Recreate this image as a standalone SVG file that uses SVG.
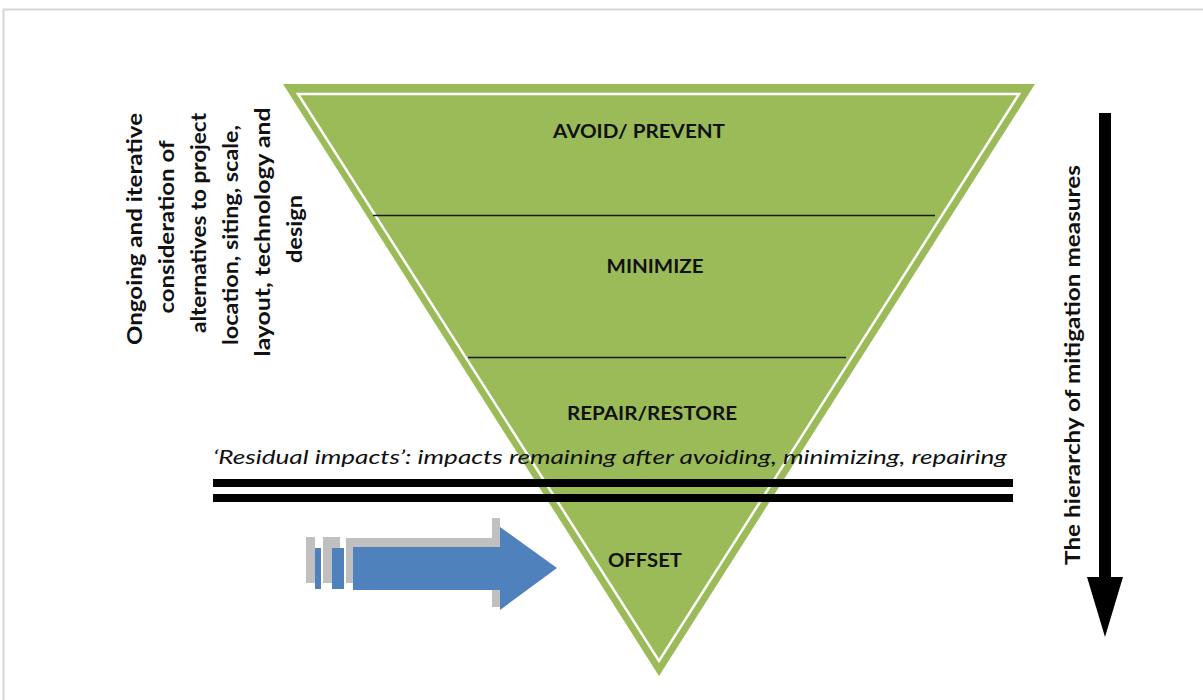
<svg xmlns="http://www.w3.org/2000/svg" width="1203" height="700" viewBox="0 0 1203 700">
<style>
.lbl{font-family:Lato,"Liberation Sans",sans-serif;font-weight:bold;font-size:19px;fill:#111;text-anchor:middle}
.side{font-family:Lato,"Liberation Sans",sans-serif;font-weight:bold;font-size:20px;fill:#111;text-anchor:middle}
.res{font-family:Lato,"Liberation Sans",sans-serif;font-style:italic;font-size:19px;fill:#111}
</style>
<rect x="0" y="0" width="1203" height="700" fill="#fff"/>
<rect x="3.5" y="9.5" width="1210" height="700" fill="none" stroke="#d6d6d6" stroke-width="2"/>
<g id="pyramid">
  <polygon points="283,84 1035,84 659,676" fill="#9bbb59"/>
  <polygon points="298,94 1019,94 659,661" fill="none" stroke="#fff" stroke-width="2.5"/>
  <line x1="373" y1="215.5" x2="935" y2="215.5" stroke="#1a1a1a" stroke-width="1.5"/>
  <line x1="468" y1="357.5" x2="846" y2="357.5" stroke="#1a1a1a" stroke-width="1.5"/>
</g>
<g id="avoid"><text class="lbl" x="639" y="138" textLength="172" lengthAdjust="spacingAndGlyphs">AVOID/ PREVENT</text></g>
<g id="minimize"><text class="lbl" x="655" y="273" textLength="97" lengthAdjust="spacingAndGlyphs">MINIMIZE</text></g>
<g id="repair"><text class="lbl" x="652" y="420" textLength="170" lengthAdjust="spacingAndGlyphs">REPAIR/RESTORE</text></g>
<g id="offset"><text class="lbl" x="645" y="567" textLength="74" lengthAdjust="spacingAndGlyphs">OFFSET</text></g>
<g id="residual">
  <text class="res" x="213" y="464" textLength="794" lengthAdjust="spacingAndGlyphs">‘Residual impacts’: impacts remaining after avoiding, minimizing, repairing</text>
  <rect x="213" y="479" width="800" height="8" fill="#000"/>
  <rect x="213" y="494" width="800" height="8" fill="#000"/>
</g>
<g id="left-note" transform="rotate(-90)">
  <text class="side" x="-229" y="142" textLength="232" lengthAdjust="spacingAndGlyphs">Ongoing and iterative</text>
  <text class="side" x="-227" y="174" textLength="173" lengthAdjust="spacingAndGlyphs">consideration of</text>
  <text class="side" x="-223" y="206" textLength="220" lengthAdjust="spacingAndGlyphs">alternatives to project</text>
  <text class="side" x="-235" y="238" textLength="220" lengthAdjust="spacingAndGlyphs">location, siting, scale,</text>
  <text class="side" x="-232" y="270" textLength="249" lengthAdjust="spacingAndGlyphs">layout, technology and</text>
  <text class="side" x="-229" y="302" textLength="68" lengthAdjust="spacingAndGlyphs">design</text>
</g>
<g id="offset-arrow">
  <g fill="#c0c0c0">
    <rect x="306" y="537" width="9" height="46"/>
    <rect x="323" y="537" width="17" height="46"/>
    <rect x="346" y="538" width="154" height="45"/>
    <rect x="492" y="518" width="8" height="89"/>
  </g>
  <g fill="#4f81bd">
    <rect x="315" y="548" width="6" height="41"/>
    <rect x="332" y="548" width="12" height="41"/>
    <polygon points="353,547 500,547 500,527 557,568 500,610 500,590 353,590"/>
  </g>
</g>
<g id="connectors">
  <rect x="1099" y="113" width="12" height="466" fill="#000"/>
  <polygon points="1087,577 1123,577 1105,637" fill="#000"/>
</g>
<g id="hierarchy-label">
  <text class="side" transform="rotate(-90)" x="-365" y="1080" textLength="400" lengthAdjust="spacingAndGlyphs">The hierarchy of mitigation measures</text>
</g>
</svg>
